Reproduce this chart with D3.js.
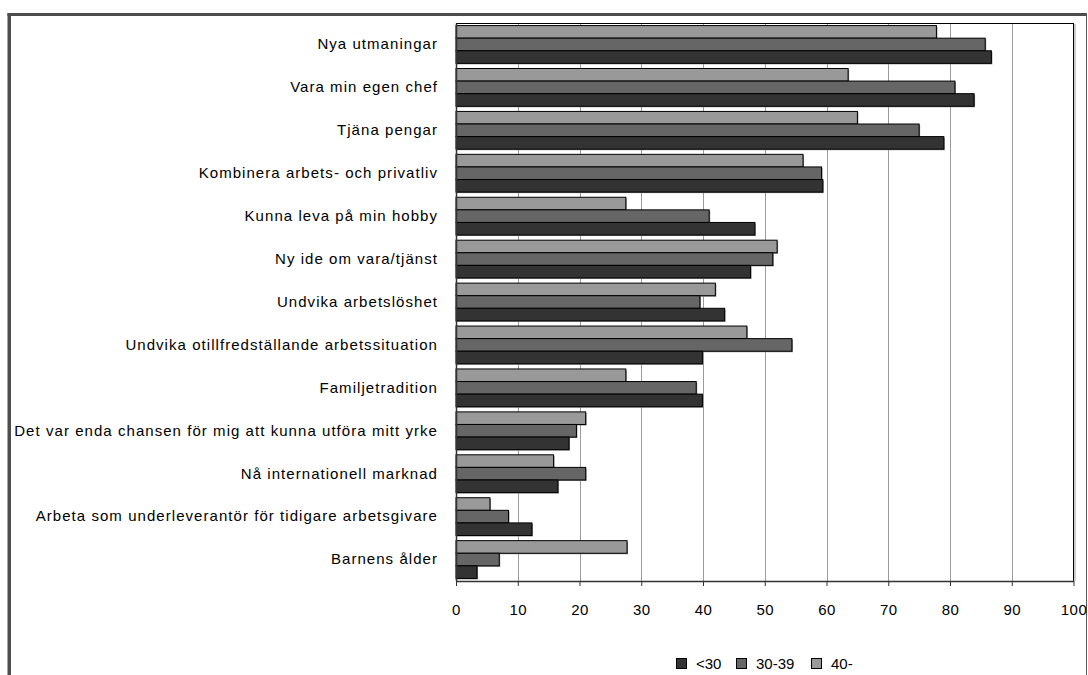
<!DOCTYPE html>
<html>
<head>
<meta charset="utf-8">
<script src="https://cdn.jsdelivr.net/npm/d3@7"></script>
<style>
  html, body { margin: 0; padding: 0; background: #ffffff; }
  svg { display: block; }
</style>
</head>
<body>
<svg id="chart" width="1088" height="675"></svg>
<script>
const categories = [
  "Nya utmaningar",
  "Vara min egen chef",
  "Tjäna pengar",
  "Kombinera arbets- och privatliv",
  "Kunna leva på min hobby",
  "Ny ide om vara/tjänst",
  "Undvika arbetslöshet",
  "Undvika otillfredställande arbetssituation",
  "Familjetradition",
  "Det var enda chansen för mig att kunna utföra mitt yrke",
  "Nå internationell marknad",
  "Arbeta som underleverantör för tidigare arbetsgivare",
  "Barnens ålder"
];
const seriesNames = ["<30", "30-39", "40-"];
const valuesUnder30 = [86.7, 83.9, 79.0, 59.4, 48.4, 47.7, 43.5, 39.9, 39.9, 18.3, 16.5, 12.3, 3.4];
const values30to39 = [85.7, 80.8, 75.0, 59.2, 41.0, 51.3, 39.5, 54.4, 38.9, 19.5, 21.0, 8.5, 7.0];
const values40plus = [77.8, 63.5, 65.0, 56.2, 27.5, 52.0, 42.0, 47.1, 27.5, 21.0, 15.8, 5.5, 27.7];
const xTicks = [0, 10, 20, 30, 40, 50, 60, 70, 80, 90, 100];

const seriesColors = {"<30": "#333333", "30-39": "#666666", "40-": "#999999"};
const seriesValues = {"<30": valuesUnder30, "30-39": values30to39, "40-": values40plus};
const drawOrder = ["40-", "30-39", "<30"]; // top to bottom within a group

const svg = d3.select("#chart");
const FONT = "'Liberation Sans', Arial, sans-serif";

const plot = {left: 456, right: 1073.5, top: 23, bottom: 581};

// outer frame
svg.append("rect").attr("x", 7.5).attr("y", 13).attr("width", 1079.5).attr("height", 3).attr("fill", "#4d4d4d");
svg.append("rect").attr("x", 7.5).attr("y", 13).attr("width", 3.5).attr("height", 662).attr("fill", "#4d4d4d");
svg.append("line").attr("x1", 1086.5).attr("x2", 1086.5).attr("y1", 13).attr("y2", 675)
  .attr("stroke", "#555").attr("stroke-width", 1);

const x = d3.scaleLinear().domain([0, 100]).range([plot.left, plot.right]);
const y = d3.scaleBand().domain(categories).range([plot.top, plot.bottom])
  .paddingInner(0.12).paddingOuter(0.06);
const yInner = d3.scaleBand().domain(drawOrder).range([0, y.bandwidth()]);

// gridlines
svg.append("g").selectAll("line").data(xTicks.filter(t => t > 0 && t < 100)).join("line")
  .attr("x1", d => Math.round(x(d)) + 0.5).attr("x2", d => Math.round(x(d)) + 0.5)
  .attr("y1", plot.top).attr("y2", plot.bottom)
  .attr("stroke", "#9a9a9a").attr("stroke-width", 1);

// plot frame (top and right)
svg.append("line").attr("x1", plot.left).attr("x2", plot.right).attr("y1", plot.top + 0.5).attr("y2", plot.top + 0.5)
  .attr("stroke", "#000").attr("stroke-width", 1);
svg.append("line").attr("x1", plot.right).attr("x2", plot.right).attr("y1", plot.top).attr("y2", plot.bottom)
  .attr("stroke", "#000").attr("stroke-width", 1);
svg.append("line").attr("x1", plot.right + 1.5).attr("x2", plot.right + 1.5).attr("y1", plot.top + 1).attr("y2", plot.bottom)
  .attr("stroke", "#999").attr("stroke-width", 1);

// bars
const rows = [];
categories.forEach((c, i) => {
  drawOrder.forEach(s => rows.push({cat: c, series: s, value: seriesValues[s][i]}));
});
const barG = svg.append("g");
barG.selectAll("rect.shadow").data(rows).join("rect").attr("class", "shadow")
  .attr("x", x(0) + 1)
  .attr("y", d => y(d.cat) + yInner(d.series) + 1)
  .attr("width", d => x(d.value) - x(0))
  .attr("height", yInner.bandwidth())
  .attr("fill", "#8a8a8a");
barG.selectAll("rect.bar").data(rows).join("rect").attr("class", "bar")
  .attr("x", x(0))
  .attr("y", d => y(d.cat) + yInner(d.series))
  .attr("width", d => x(d.value) - x(0))
  .attr("height", yInner.bandwidth())
  .attr("fill", d => seriesColors[d.series])
  .attr("stroke", "#000").attr("stroke-width", 1);

// x axis
const xAxis = svg.append("g").attr("transform", `translate(0,${plot.bottom})`)
  .call(d3.axisBottom(x).tickValues(xTicks).tickSize(5).tickPadding(18).tickSizeOuter(0));
xAxis.select(".domain").attr("stroke", "#333").attr("stroke-width", 1.5);
xAxis.selectAll(".tick line").attr("stroke", "#333");
xAxis.selectAll("text").attr("font-family", FONT).attr("font-size", 15)
  .attr("letter-spacing", "0.5px").attr("fill", "#000");

// y axis
const yAxis = svg.append("g").attr("transform", `translate(${plot.left},0)`)
  .call(d3.axisLeft(y).tickSize(0).tickPadding(18));
yAxis.select(".domain").attr("stroke", "#333").attr("stroke-width", 1.5);
yAxis.selectAll("text").attr("font-family", FONT).attr("font-size", 15)
  .attr("letter-spacing", "1.05px").attr("fill", "#000");

// legend
const legendX = [676, 736, 811];
const legend = svg.append("g");
seriesNames.forEach((s, i) => {
  legend.append("rect").attr("x", legendX[i] + 0.5).attr("y", 658.5).attr("width", 10).attr("height", 10)
    .attr("fill", seriesColors[s]).attr("stroke", "#000").attr("stroke-width", 1);
  legend.append("text").attr("x", legendX[i] + 20).attr("y", 668.5)
    .attr("font-family", FONT).attr("font-size", 15).attr("fill", "#000").text(s);
});
</script>
</body>
</html>
